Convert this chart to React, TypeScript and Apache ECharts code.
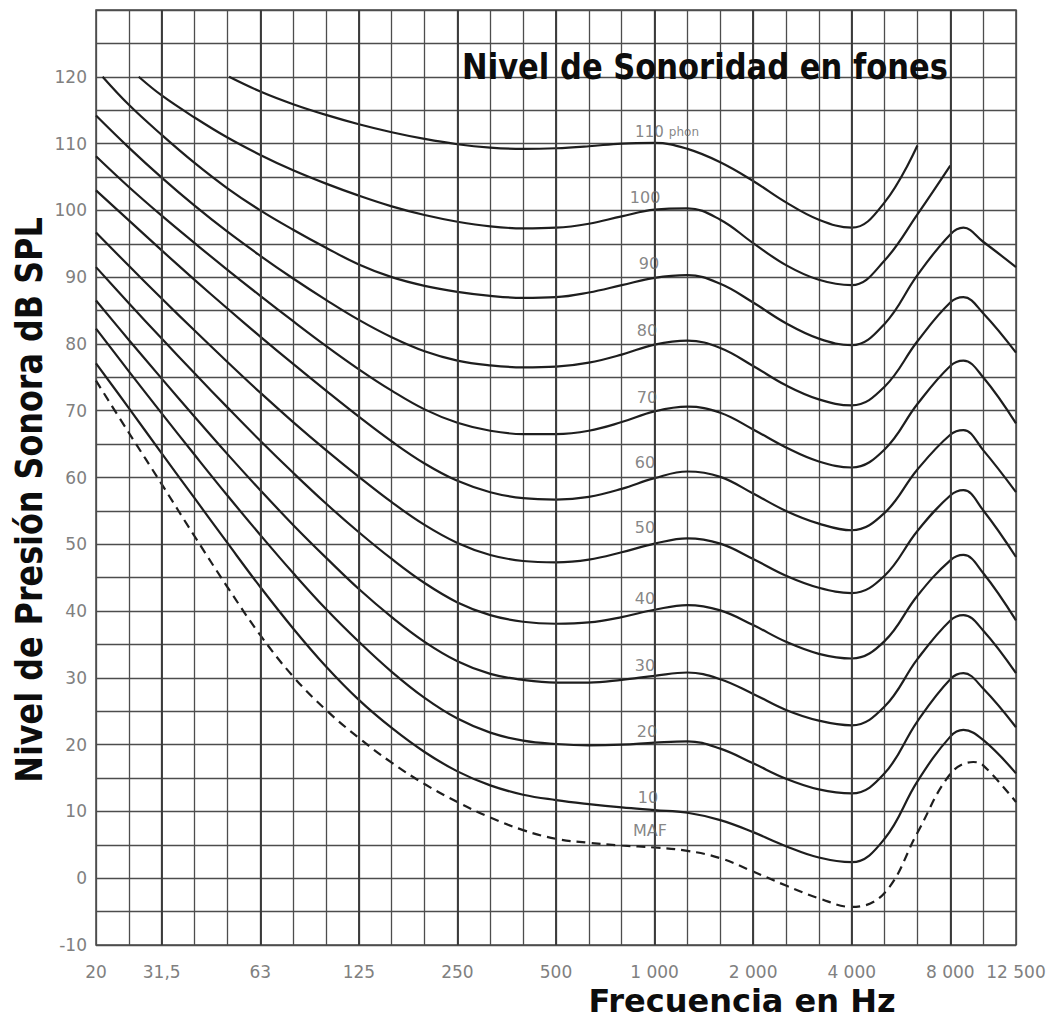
import React, { useEffect, useRef } from 'react';
import * as echarts from 'echarts';

// x positions are third-octave band numbers counted from 20 Hz (0 = 20 Hz, 28 = 12 500 Hz)
const TICK_BANDS = [0, 2, 5, 8, 11, 14, 17, 20, 23, 26, 28];
const TICK_TEXT = ['20', '31,5', '63', '125', '250', '500', '1 000', '2 000', '4 000', '8 000', '12 500'];
const OCTAVE_BANDS = [2, 5, 8, 11, 14, 17, 20, 23, 26];

// Equal-loudness contours: [band, dB SPL]
const PHON_110 = [[4.05,120],[5,117.8],[6,115.9],[7,114.3],[8,112.9],[9,111.7],[10,110.7],[11,109.9],[12,109.4],[13,109.2],[14,109.3],[15,109.6],[16,110],[17,110.1],[18,109.2],[19,107.2],[20,104.4],[21,101.2],[22,98.6],[23,97.4],[24,101.2],[25,109.7]];
const PHON_100 = [[1.3,120],[2,117.2],[3,113.9],[4,110.9],[5,108.3],[6,106],[7,104],[8,102.2],[9,100.6],[10,99.3],[11,98.3],[12,97.6],[13,97.3],[14,97.4],[15,98],[16,99.1],[17,100.1],[18,100.3],[19,98.6],[20,95.1],[21,91.8],[22,89.6],[23,88.8],[24,92.5],[25,99.4],[26,106.7]];
const PHON_90 = [[0.2,120],[1,115.8],[2,111.3],[3,107.1],[4,103.3],[5,100],[6,97.1],[7,94.4],[8,91.9],[9,90],[10,88.7],[11,87.8],[12,87.2],[13,86.9],[14,87],[15,87.7],[16,88.8],[17,89.9],[18,90.3],[19,89],[20,86.2],[21,83.1],[22,80.8],[23,79.8],[24,83],[25,90.3],[26,96.4],[26.4,97.4],[27,95.3],[28,91.5]];
const PHON_80 = [[0,114.2],[1,109.4],[2,104.9],[3,100.7],[4,96.8],[5,93.2],[6,89.8],[7,86.6],[8,83.6],[9,81],[10,78.9],[11,77.5],[12,76.8],[13,76.5],[14,76.6],[15,77.2],[16,78.4],[17,79.9],[18,80.5],[19,79.4],[20,76.7],[21,73.8],[22,71.7],[23,70.8],[24,73.6],[25,80.4],[26,86.2],[26.4,87],[27,84.6],[28,78.7]];
const PHON_70 = [[0,108.1],[1,103.5],[2,99.2],[3,95.1],[4,91.1],[5,87.2],[6,83.4],[7,79.7],[8,76.2],[9,73],[10,70.2],[11,68.2],[12,67],[13,66.5],[14,66.5],[15,67],[16,68.3],[17,69.9],[18,70.6],[19,69.7],[20,67.2],[21,64.5],[22,62.4],[23,61.5],[24,64.2],[25,71],[26,76.7],[26.4,77.5],[27,75],[28,68.1]];
const PHON_60 = [[0,103],[1,98.5],[2,94],[3,89.6],[4,85.3],[5,81.1],[6,77],[7,73],[8,69.1],[9,65.4],[10,62.1],[11,59.5],[12,57.8],[13,56.9],[14,56.7],[15,57.1],[16,58.3],[17,59.9],[18,60.9],[19,60.1],[20,57.6],[21,55],[22,53.1],[23,52.1],[24,54.7],[25,61.2],[26,66.4],[26.4,67.1],[27,64.1],[28,57.8]];
const PHON_50 = [[0,96.7],[1,91.7],[2,86.8],[3,82],[4,77.3],[5,72.7],[6,68.3],[7,64.1],[8,60.1],[9,56.3],[10,52.9],[11,50.2],[12,48.4],[13,47.5],[14,47.3],[15,47.7],[16,48.8],[17,50.1],[18,50.9],[19,50.1],[20,47.8],[21,45.3],[22,43.5],[23,42.7],[24,45.3],[25,52],[26,57.3],[26.4,58.1],[27,55.1],[28,48.1]];
const PHON_40 = [[0,91.5],[1,86.1],[2,80.8],[3,75.6],[4,70.5],[5,65.5],[6,60.7],[7,56.1],[8,51.8],[9,47.8],[10,44.2],[11,41.3],[12,39.4],[13,38.4],[14,38.1],[15,38.3],[16,39.1],[17,40.2],[18,40.9],[19,40.1],[20,37.9],[21,35.4],[22,33.6],[23,32.9],[24,35.5],[25,42.3],[26,47.6],[26.4,48.4],[27,45.7],[28,38.6]];
const PHON_30 = [[0,86.5],[1,80.6],[2,74.8],[3,69.1],[4,63.5],[5,58.1],[6,52.9],[7,48],[8,43.3],[9,39.1],[10,35.4],[11,32.5],[12,30.6],[13,29.7],[14,29.3],[15,29.3],[16,29.7],[17,30.3],[18,30.8],[19,29.8],[20,27.6],[21,25.2],[22,23.6],[23,22.9],[24,25.7],[25,32.8],[26,38.6],[26.4,39.4],[27,37.1],[28,30.7]];
const PHON_20 = [[0,82.3],[1,75.9],[2,69.6],[3,63.4],[4,57.3],[5,51.4],[6,45.7],[7,40.3],[8,35.4],[9,30.9],[10,27],[11,23.9],[12,21.8],[13,20.6],[14,20.1],[15,19.9],[16,20],[17,20.3],[18,20.5],[19,19.4],[20,17.2],[21,14.9],[22,13.3],[23,12.7],[24,15.7],[25,23.5],[26,29.8],[26.4,30.7],[27,28.4],[28,22.6]];
const PHON_10 = [[0,77.1],[1,70.4],[2,63.6],[3,56.9],[4,50.2],[5,43.6],[6,37.4],[7,31.7],[8,26.7],[9,22.5],[10,18.9],[11,16],[12,13.9],[13,12.5],[14,11.7],[15,11.1],[16,10.6],[17,10.2],[18,9.8],[19,8.7],[20,6.9],[21,4.8],[22,3.1],[23,2.4],[24,5.9],[25,14.5],[26,21.2],[26.4,22.2],[27,20.7],[28,15.7]];
const MAF = [[0,74.5],[1,66.7],[2,59],[3,51.2],[4,43.6],[5,36.4],[6,30.2],[7,25.2],[8,21],[9,17.3],[10,14.1],[11,11.4],[12,9.1],[13,7.2],[14,5.9],[15,5.3],[16,4.9],[17,4.6],[18,4.1],[19,3],[20,1],[21,-1.1],[22,-3],[23,-4.3],[24,-2.2],[25,6.8],[26,15.6],[26.7,17.4],[27,16.9],[28,11.4]];

const SOLID_CURVES = [PHON_110, PHON_100, PHON_90, PHON_80, PHON_70, PHON_60, PHON_50, PHON_40, PHON_30, PHON_20, PHON_10];

// curve labels
const LABEL_TEXT = ['110 phon', '100', '90', '80', '70', '60', '50', '40', '30', '20', '10', 'MAF'];
const LABEL_BAND = [17.38, 16.71, 16.83, 16.77, 16.77, 16.71, 16.71, 16.71, 16.71, 16.77, 16.8, 16.86];
const LABEL_DB = [111.7, 101.9, 92.1, 82.0, 72.0, 62.3, 52.5, 41.9, 31.9, 21.9, 12.1, 7.2];

const FONT = "'DejaVu Sans', 'Noto Sans', sans-serif";

export default function App() {
  const ref = useRef<HTMLDivElement>(null);
  useEffect(() => {
    if (!ref.current) return;
    const chart = echarts.init(ref.current, undefined, { renderer: 'svg' });
    const curveSeries = SOLID_CURVES.map((d) => ({
      type: 'line',
      data: d,
      smooth: 0.4,
      symbol: 'none',
      showSymbol: false,
      silent: true,
      z: 3,
      lineStyle: { color: '#1e1e1e', width: 2.2 },
    }));
    chart.setOption({
      animation: false,
      backgroundColor: '#ffffff',
      grid: { left: 96, right: 39, top: 10, bottom: 74, show: true, borderColor: '#444', borderWidth: 1.5 },
      xAxis: {
        type: 'value', min: 0, max: 28, interval: 1,
        axisLine: { show: false }, axisTick: { show: false },
        splitLine: { show: true, lineStyle: { color: '#4d4d4d', width: 1.3 } },
        axisLabel: {
          showMinLabel: true, showMaxLabel: true,
          formatter: (v: number) => { const k = TICK_BANDS.indexOf(Math.round(v)); return k >= 0 ? TICK_TEXT[k] : ''; },
          color: '#808080', fontSize: 17, fontFamily: FONT, margin: 18,
        },
      },
      yAxis: {
        type: 'value', min: -10, max: 130, interval: 5,
        axisLine: { show: false }, axisTick: { show: false },
        splitLine: { show: true, lineStyle: { color: '#4d4d4d', width: 1.3 } },
        axisLabel: {
          formatter: (v: number) => (v % 10 === 0 && v <= 120 ? String(v) : ''),
          color: '#808080', fontSize: 17, fontFamily: FONT, margin: 9,
        },
      },
      graphic: [
        { type: 'text', x: 705, y: 67, scaleX: 0.85, silent: true, z: 10,
          style: { text: 'Nivel de Sonoridad en fones', fontSize: 36, fontWeight: 'bold', fontFamily: FONT, fill: '#0d0d0d', textAlign: 'center', textVerticalAlign: 'middle', align: 'center', verticalAlign: 'middle' } },
        { type: 'text', x: 742, y: 1001, silent: true,
          style: { text: 'Frecuencia en Hz', fontSize: 32, fontWeight: 'bold', fontFamily: FONT, fill: '#0d0d0d', textAlign: 'center', textVerticalAlign: 'middle', align: 'center', verticalAlign: 'middle' } },
        { type: 'text', x: 29, y: 500, rotation: Math.PI / 2, scaleX: 0.86, silent: true,
          style: { text: 'Nivel de Presión Sonora dB SPL', fontSize: 37, fontWeight: 'bold', fontFamily: FONT, fill: '#0d0d0d', textAlign: 'center', textVerticalAlign: 'middle', align: 'center', verticalAlign: 'middle' } },
      ],
      series: [
        {
          type: 'line', data: [], silent: true, z: 1,
          markLine: {
            silent: true, symbol: ['none', 'none'], label: { show: false },
            lineStyle: { color: '#3a3a3a', width: 1.9, type: 'solid' },
            data: OCTAVE_BANDS.map((b) => ({ xAxis: b })),
          },
        },
        ...curveSeries,
        {
          type: 'line', data: MAF, smooth: 0.4, symbol: 'none', showSymbol: false, silent: true, z: 3,
          lineStyle: { color: '#1e1e1e', width: 2.2, type: [9, 6] },
        },
        {
          type: 'scatter', silent: true, z: 5, symbolSize: 1,
          itemStyle: { color: 'rgba(0,0,0,0)' },
          data: LABEL_BAND.map((b, i) => ({ value: [b, LABEL_DB[i]], name: LABEL_TEXT[i] })),
          label: {
            show: true, position: 'inside',
            formatter: (p: any) => (p.name === '110 phon' ? '{a|110} {b|phon}' : p.name),
            color: '#666', fontSize: 16, fontFamily: FONT,
            rich: { a: { fontSize: 15, color: '#666', fontFamily: FONT }, b: { fontSize: 12, color: '#666', fontFamily: FONT } },
          },
        },
      ],
    });
    return () => chart.dispose();
  }, []);
  return <div ref={ref} style={{ position: 'absolute', left: 0, top: 0, width: 1055, height: 1019 }} />;
}
